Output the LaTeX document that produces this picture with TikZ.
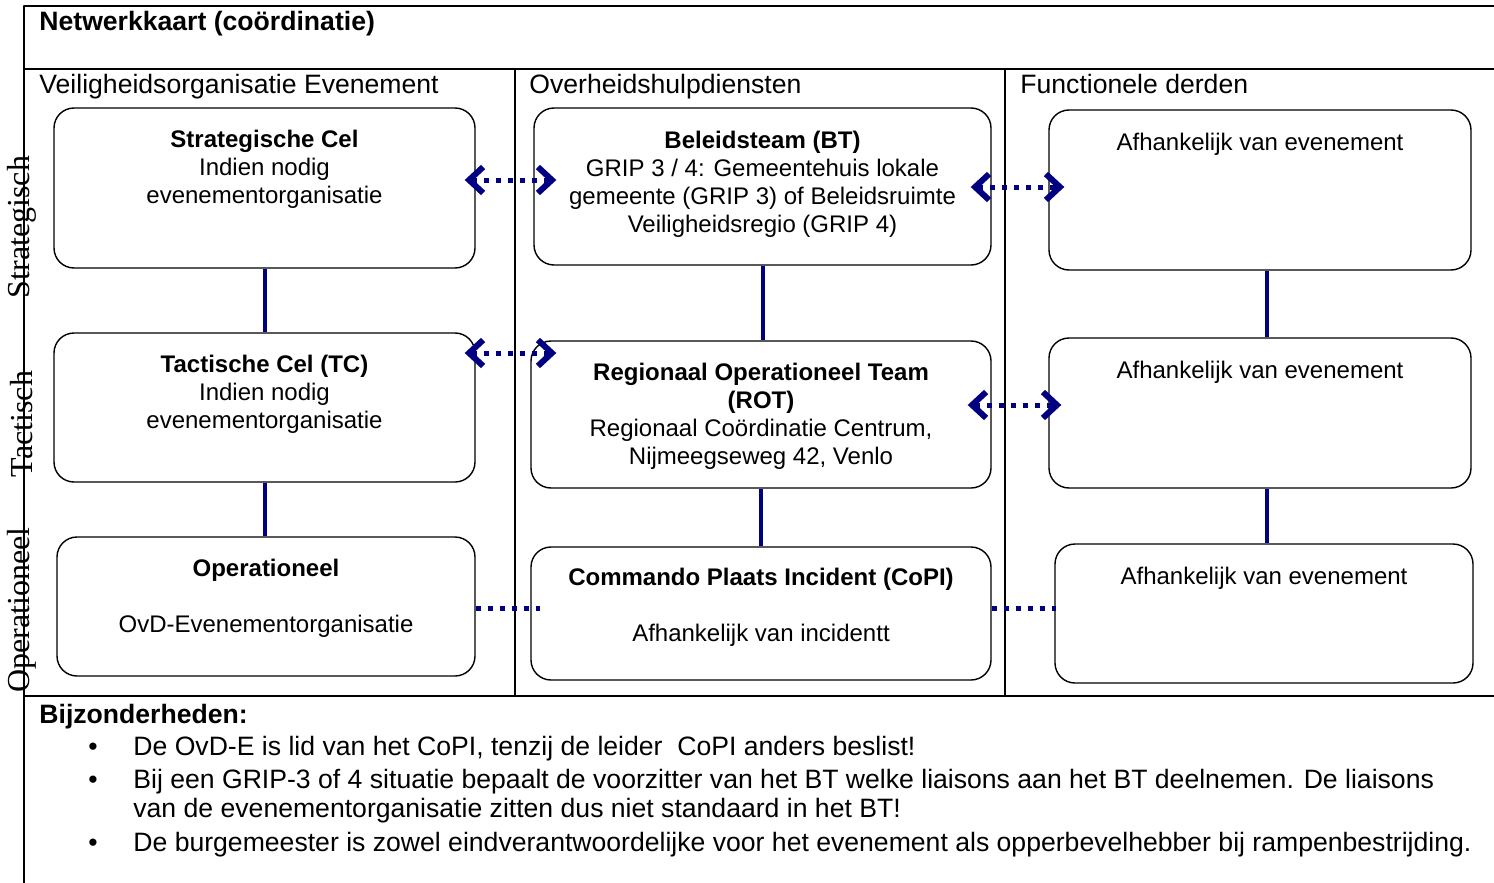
\documentclass[tikz,border=0pt]{standalone}
\usepackage{fontspec}
\setmainfont{Liberation Sans}
\newfontfamily\levelfont{Liberation Serif}
\usetikzlibrary{arrows.meta,fit}
\definecolor{navy}{RGB}{0,0,128}
\tikzset{
  frame/.style={black,line width=1pt},
  cell/.style={draw=black,line width=0.7pt,rounded corners=10pt,inner sep=0pt},
  txt/.style={inner sep=0pt,align=center,anchor=north,font=\fontsize{12}{13.9}\selectfont},
  hdr/.style={inner sep=0pt,anchor=base west,font=\fontsize{13.3}{14}\selectfont},
  lvl/.style={inner sep=0pt,rotate=90,font=\levelfont\fontsize{16}{18}\selectfont},
  note/.style={inner sep=0pt,anchor=base west,align=left,font=\fontsize{13.3}{14.5}\selectfont},
  link/.style={navy,line width=2pt},
  liaison/.style={navy,line width=2.5pt,dash pattern=on 2.5pt off 3.5pt},
  both/.style={{Straight Barb[length=7pt,width=13pt,line width=3pt]}-{Straight Barb[length=7pt,width=13pt,line width=3pt]}},
}
\begin{document}
\begin{tikzpicture}[x=0.5pt,y=-0.5pt,line join=bevel,]
\useasboundingbox (0,0) rectangle (1494,883);
%%
\draw [frame] (24,883) -- (24,6) -- (1494,6);
\draw [frame] (24,69) -- (1494,69);
\draw [frame] (24,696) -- (1494,696);
\draw [frame] (515,69) -- (515,696);
\draw [frame] (1005,69) -- (1005,696);
\node (node_title) at (39,31) [hdr] {\bfseries Netwerkkaart (coördinatie)};
\node (node_col_a) at (39,94) [hdr] {Veiligheidsorganisatie Evenement};
\node (node_col_b) at (529,94) [hdr] {Overheidshulpdiensten};
\node (node_col_c) at (1020,94) [hdr] {Functionele derden};
\node (node_lvl_s) at (22,227) [lvl] {Strategisch};
\node (node_lvl_t) at (22,424) [lvl] {Tactisch};
\node (node_lvl_o) at (22,610) [lvl] {Operationeel};
%
\node (node_sc) [cell,fit={(54,108) (475,268)}] {};
\node (node_tc) [cell,fit={(54,333) (475,482)}] {};
\node (node_op) [cell,fit={(57,537) (475,676)}] {};
\node (node_bt) [cell,fit={(534,108) (991,265)}] {};
\node (node_rot) [cell,fit={(531,341) (991,488)}] {};
\node (node_copi) [cell,fit={(531,547) (991,680)}] {};
\node (node_fd_1) [cell,fit={(1049,110) (1471,270)}] {};
\node (node_fd_2) [cell,fit={(1049,338) (1471,488)}] {};
\node (node_fd_3) [cell,fit={(1055,544) (1473,683)}] {};
%
\node (text_sc) at (264.5,130) [txt] {\textbf{Strategische Cel}\\Indien nodig\\evenementorganisatie};
\node (text_tc) at (264.5,355) [txt] {\textbf{Tactische Cel (TC)}\\Indien nodig\\evenementorganisatie};
\node (text_op) at (266,559) [txt] {\textbf{Operationeel}\\[13.9pt]OvD-Evenementorganisatie};
\node (text_bt) at (762.5,131) [txt] {\textbf{Beleidsteam (BT)}\\GRIP 3 / 4: Gemeentehuis lokale\\gemeente (GRIP 3) of Beleidsruimte\\Veiligheidsregio (GRIP 4)};
\node (text_rot) at (761,363) [txt] {\textbf{Regionaal Operationeel Team}\\\textbf{(ROT)}\\Regionaal Coördinatie Centrum,\\Nijmeegseweg 42, Venlo};
\node (text_copi) at (761,568) [txt] {\textbf{Commando Plaats Incident (CoPI)}\\[13.9pt]Afhankelijk van incidentt};
\node (text_fd_1) at (1260,133) [txt] {Afhankelijk van evenement};
\node (text_fd_2) at (1260,361) [txt] {Afhankelijk van evenement};
\node (text_fd_3) at (1264,567) [txt] {Afhankelijk van evenement};
%
\draw [link] (node_sc.south) -- (node_sc.south |- node_tc.north);
\draw [link] (node_tc.south) -- (node_tc.south |- node_op.north);
\draw [link] (node_bt.south) -- (node_bt.south |- node_rot.north);
\draw [link] (node_rot.south) -- (node_rot.south |- node_copi.north);
\draw [link] ([xshift=3.5pt]node_fd_1.south) -- ([xshift=3.5pt]node_fd_1.south |- node_fd_2.north);
\draw [link] ([xshift=3.5pt]node_fd_2.south) -- ([xshift=3.5pt]node_fd_2.south |- node_fd_3.north);
\draw [liaison,both,shorten <=-5.5pt,shorten >=-11.5pt] (node_sc.east |- 0,180) -- (node_bt.west |- 0,180);
\draw [liaison,both,shorten <=-10.5pt,shorten >=-8pt] (node_bt.east |- 0,187) -- (node_fd_1.west |- 0,187);
\draw [liaison,both,shorten <=-5.5pt,shorten >=-13pt] (node_tc.east |- 0,353) -- (node_rot.west |- 0,353);
\draw [liaison,both,shorten <=-12pt,shorten >=-6.5pt] (node_rot.east |- 0,405) -- (node_fd_2.west |- 0,405);
\draw [liaison,shorten >=-5pt] (node_op.east |- 0,608) -- (node_copi.west |- 0,608);
\draw [liaison,shorten >=-1pt] (node_copi.east |- 0,608) -- (node_fd_3.west |- 0,608);
%
\node (node_notes) at (39,723) [hdr] {\bfseries Bijzonderheden:};
\node (bullet_1) at (88,755) [note] {•};
\node (bullet_2) at (88,788) [note] {•};
\node (bullet_3) at (88,851) [note] {•};
\node (note_1) at (133,755) [note] {De OvD-E is lid van het CoPI, tenzij de leider~ CoPI anders beslist!};
\node (note_2) at (133,769) [note,anchor=north west] {Bij een GRIP-3 of 4 situatie bepaalt de voorzitter van het BT welke liaisons aan het BT deelnemen. De liaisons\\van de evenementorganisatie zitten dus niet standaard in het BT!};
\node (note_3) at (133,851) [note] {De burgemeester is zowel eindverantwoordelijke voor het evenement als opperbevelhebber bij rampenbestrijding.};
%
\end{tikzpicture}
\end{document}
